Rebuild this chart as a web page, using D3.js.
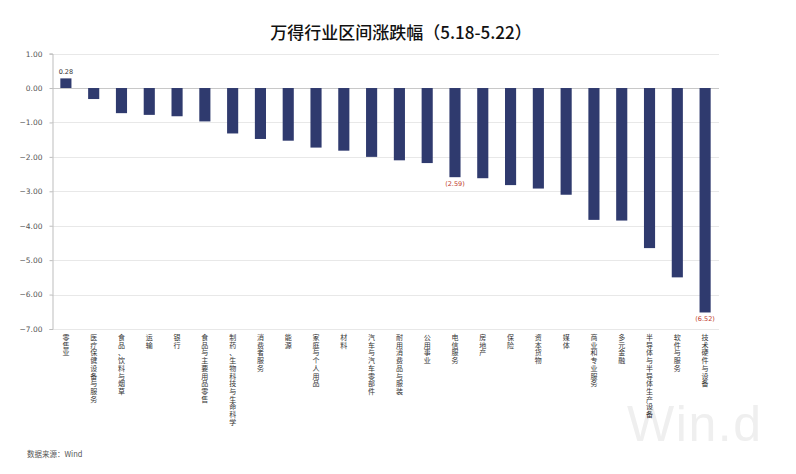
<!DOCTYPE html>
<html>
<head>
<meta charset="utf-8">
<script src="https://cdn.jsdelivr.net/npm/d3@7"></script>
<style>
  body { margin: 0; background: #fff; }
  svg { display: block; font-family: "Noto Sans CJK SC", "DejaVu Sans", sans-serif; }
</style>
</head>
<body>
<div id="container"></div>
<script>
const categories = ["零售业", "医疗保健设备与服务", "食品、饮料与烟草", "运输", "银行", "食品与主要用品零售",
    "制药、生物科技与生命科学", "消费者服务", "能源", "家庭与个人用品", "材料", "汽车与汽车零部件",
    "耐用消费品与服装", "公用事业", "电信服务", "房地产", "保险", "资本货物", "媒体",
    "商业和专业服务", "多元金融", "半导体与半导体生产设备", "软件与服务", "技术硬件与设备"];
const values = [0.28, -0.32, -0.73, -0.78, -0.82, -0.97, -1.32, -1.48, -1.53, -1.73, -1.82, -2.0,
    -2.1, -2.18, -2.59, -2.62, -2.82, -2.92, -3.1, -3.83, -3.85, -4.65, -5.5, -6.52];
const yTicks = [1, 0, -1, -2, -3, -4, -5, -6, -7];
const labelled = ["零售业", "电信服务", "技术硬件与设备"];

const w = 796; // canvas width
const h = 474; // canvas height
const plotL = 52, plotR = 719, plotT = 53.6, plotB = 329;

const svg = d3.select("#container").append("svg")
    .attr("width", w)
    .attr("height", h);

svg.append("text")
    .attr("x", 401)
    .attr("y", 39)
    .attr("text-anchor", "middle")
    .attr("font-size", 17)
    .attr("font-weight", 500)
    .attr("fill", "#111")
    .text("万得行业区间涨跌幅（5.18-5.22）");

// watermark
svg.append("text")
    .attr("x", 627)
    .attr("y", 441)
    .attr("font-family", "Arial, 'Liberation Sans', sans-serif")
    .attr("textLength", 134)
    .attr("font-size", 50)
    .attr("fill", "#efefef")
    .text("Win.d");

const x = d3.scaleBand()
    .domain(categories)
    .range([plotL, plotR])
    .paddingInner(0.6)
    .paddingOuter(0.3);

const y = d3.scaleLinear()
    .domain([-7, 1])
    .range([plotB, plotT]);

// grid
svg.append("g")
    .selectAll("line")
    .data(yTicks)
    .enter().append("line")
    .attr("x1", plotL)
    .attr("x2", plotR)
    .attr("y1", (d) => Math.round(y(d)) + 0.5)
    .attr("y2", (d) => Math.round(y(d)) + 0.5)
    .attr("stroke", (d) => d === 0 ? "#c8c8c8" : "#e8e8e8")
    .attr("stroke-width", 1);

const yAxis = d3.axisLeft(y)
    .tickValues(yTicks)
    .tickSize(3)
    .tickFormat(d3.format(".2f"));

const gy = svg.append("g")
    .attr("transform", `translate(${plotL + 0.5},0)`)
    .call(yAxis);
gy.select(".domain").attr("stroke", "#bdbdbd");
gy.selectAll(".tick line").attr("stroke", "#bdbdbd");
gy.selectAll(".tick text")
    .attr("x", -10)
    .attr("font-size", 7.5)
    .attr("fill", "#555")
    .attr("font-family", "'DejaVu Sans', sans-serif");

svg.selectAll(".bar")
    .data(values)
    .enter().append("rect")
    .attr("class", "bar")
    .attr("x", (d, i) => x(categories[i]))
    .attr("width", x.bandwidth())
    .attr("y", (d) => y(Math.max(d, 0)))
    .attr("height", (d) => Math.abs(y(d) - y(0)))
    .attr("fill", "#2f3a6e");

// value labels
svg.selectAll(".vlabel")
    .data(values.map((v, i) => ({ v: v, c: categories[i] })).filter((d) => labelled.includes(d.c)))
    .enter().append("text")
    .attr("class", "vlabel")
    .attr("x", (d) => x(d.c) + x.bandwidth() / 2)
    .attr("y", (d) => d.v >= 0 ? y(d.v) - 4 : y(d.v) + 9)
    .attr("text-anchor", "middle")
    .attr("font-size", 6.5)
    .attr("font-family", "'DejaVu Sans', sans-serif")
    .attr("fill", (d) => d.v >= 0 ? "#333" : "#c0392b")
    .text((d) => d.v >= 0 ? d3.format(".2f")(d.v) : `(${d3.format(".2f")(-d.v)})`);

// vertical category labels, one character per line
const catGroups = svg.selectAll(".cat")
    .data(categories)
    .enter().append("g")
    .attr("class", "cat")
    .attr("transform", (d) => `translate(${x(d) + x.bandwidth() / 2},0)`);

catGroups.selectAll("text")
    .data((d) => Array.from(d))
    .enter().append("text")
    .attr("x", 0)
    .attr("y", (d, i) => 340 + i * 7.7)
    .attr("text-anchor", "middle")
    .attr("font-size", 7)
    .attr("fill", "#333")
    .text((d) => d);

svg.append("text")
    .attr("x", 27)
    .attr("y", 457)
    .attr("font-size", 7.5)
    .attr("fill", "#555")
    .text("数据来源：Wind");
</script>
</body>
</html>
